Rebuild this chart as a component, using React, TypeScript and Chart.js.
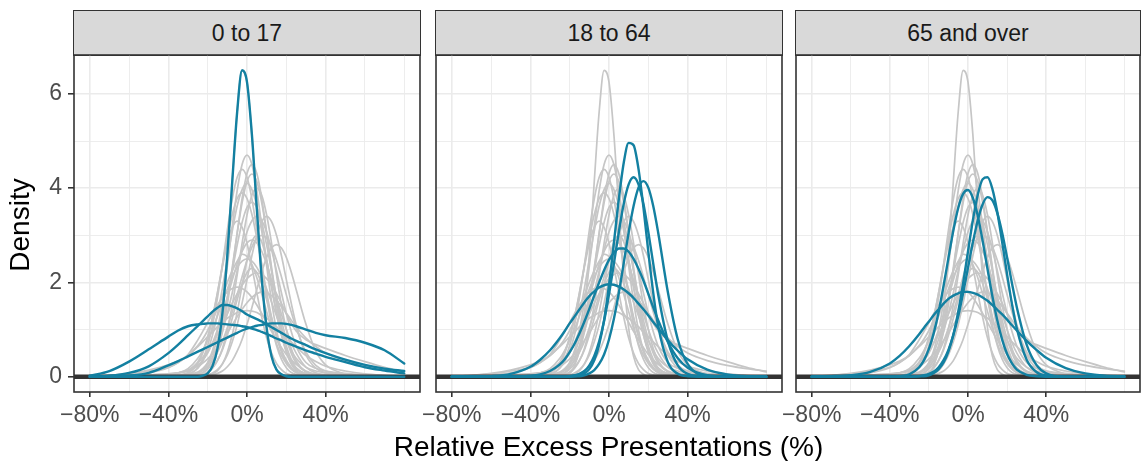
import React, { useEffect, useRef } from "react";
import { Chart, registerables } from "chart.js";

Chart.register(...registerables);
Chart.defaults.font.family = "'Liberation Sans', Arial, Helvetica, sans-serif";

// ---- data -------------------------------------------------------------
const X_PCT = [-80, -70, -60, -50, -40, -35, -30, -25, -22.5, -20, -17.5, -15, -12.5, -10, -7.5, -5, -2.5, 0, 2.5, 5, 7.5, 10, 12.5, 15, 17.5, 20, 22.5, 25, 30, 35, 40, 50, 60, 70, 80];

const X_MAJOR = [-80, -40, 0, 40];
const Y_MAJOR = [0, 2, 4, 6];
const X_MIN = -88;
const X_MAX = 88;
const Y_MIN = -0.325;
const Y_MAX = 6.825;
const BASELINE_VALUE = 0;

const PANEL_LABELS = ["0 to 17", "18 to 64", "65 and over"];
const X_TITLE = "Relative Excess Presentations (%)";
const Y_TITLE = "Density";

// 0 to 17 (highlighted)
const A017_SPIKE = [0, 0, 0, 0, 0, 0, 0, 0, 0.02, 0.07, 0.23, 0.6, 1.35, 2.58, 4.14, 5.62, 6.5, 6.25, 5.13, 3.56, 2.08, 1.03, 0.43, 0.15, 0.05, 0.01, 0, 0, 0, 0, 0, 0, 0, 0, 0];
const A017_WIDE = [0, 0.02, 0.08, 0.22, 0.5, 0.68, 0.88, 1.08, 1.18, 1.28, 1.38, 1.46, 1.52, 1.52, 1.49, 1.45, 1.39, 1.32, 1.27, 1.22, 1.17, 1.11, 1.05, 0.99, 0.93, 0.87, 0.81, 0.76, 0.67, 0.58, 0.5, 0.36, 0.25, 0.17, 0.12];
const A017_PLATEAU = [0.02, 0.12, 0.32, 0.58, 0.85, 0.98, 1.07, 1.11, 1.12, 1.13, 1.13, 1.13, 1.12, 1.11, 1.1, 1.09, 1.07, 1.05, 1.02, 0.99, 0.95, 0.91, 0.86, 0.81, 0.77, 0.72, 0.68, 0.64, 0.56, 0.49, 0.42, 0.31, 0.2, 0.13, 0.07];
const A017_RIGHT = [0, 0, 0.02, 0.08, 0.24, 0.33, 0.43, 0.53, 0.58, 0.63, 0.68, 0.73, 0.78, 0.83, 0.88, 0.93, 0.98, 1.02, 1.05, 1.08, 1.1, 1.12, 1.13, 1.13, 1.13, 1.12, 1.1, 1.07, 1.0, 0.93, 0.88, 0.82, 0.72, 0.56, 0.28];

// 18 to 64 (highlighted)
const A1864_A = [0, 0, 0, 0, 0, 0, 0, 0, 0, 0, 0.01, 0.03, 0.07, 0.16, 0.35, 0.68, 1.2, 1.94, 2.84, 3.77, 4.54, 4.96, 4.91, 4.41, 3.6, 2.65, 1.78, 1.08, 0.3, 0.06, 0.01, 0, 0, 0, 0];
const A1864_B = [0, 0, 0, 0, 0, 0, 0, 0, 0, 0.01, 0.03, 0.06, 0.12, 0.24, 0.44, 0.75, 1.18, 1.75, 2.4, 3.07, 3.67, 4.08, 4.23, 4.08, 3.67, 3.07, 2.4, 1.75, 0.75, 0.24, 0.06, 0, 0, 0, 0];
const A1864_C = [0, 0, 0, 0, 0, 0, 0, 0, 0, 0, 0.01, 0.01, 0.03, 0.07, 0.14, 0.27, 0.47, 0.79, 1.23, 1.78, 2.41, 3.06, 3.62, 4.01, 4.15, 4.01, 3.62, 3.06, 1.78, 0.79, 0.27, 0.01, 0, 0, 0];
const A1864_D = [0, 0, 0, 0, 0.02, 0.05, 0.12, 0.26, 0.37, 0.52, 0.7, 0.92, 1.17, 1.44, 1.72, 2.0, 2.26, 2.48, 2.63, 2.72, 2.72, 2.65, 2.5, 2.29, 2.04, 1.76, 1.47, 1.2, 0.73, 0.39, 0.19, 0.03, 0, 0, 0];
const A1864_E = [0, 0, 0.01, 0.06, 0.21, 0.36, 0.56, 0.82, 0.97, 1.13, 1.28, 1.43, 1.58, 1.71, 1.81, 1.89, 1.94, 1.96, 1.95, 1.91, 1.85, 1.77, 1.67, 1.55, 1.43, 1.3, 1.16, 1.03, 0.77, 0.55, 0.37, 0.15, 0.05, 0.01, 0];

// 65 and over (highlighted)
const A65_A = [0, 0, 0, 0, 0, 0.01, 0.05, 0.2, 0.35, 0.59, 0.93, 1.38, 1.93, 2.52, 3.1, 3.58, 3.88, 3.96, 3.79, 3.41, 2.88, 2.28, 1.7, 1.19, 0.78, 0.48, 0.28, 0.15, 0.04, 0.01, 0, 0, 0, 0, 0];
const A65_B = [0, 0, 0, 0, 0, 0, 0, 0.01, 0.01, 0.03, 0.08, 0.16, 0.3, 0.54, 0.89, 1.38, 1.98, 2.66, 3.32, 3.86, 4.19, 4.23, 3.98, 3.49, 2.85, 2.17, 1.54, 1.02, 0.36, 0.1, 0.02, 0, 0, 0, 0];
const A65_C = [0, 0, 0, 0, 0, 0, 0, 0.01, 0.03, 0.06, 0.11, 0.2, 0.35, 0.57, 0.88, 1.28, 1.77, 2.31, 2.85, 3.32, 3.66, 3.81, 3.74, 3.47, 3.05, 2.53, 1.98, 1.47, 0.68, 0.25, 0.07, 0, 0, 0, 0];
const A65_D = [0, 0.01, 0.03, 0.1, 0.28, 0.44, 0.65, 0.9, 1.04, 1.17, 1.31, 1.43, 1.55, 1.65, 1.72, 1.77, 1.8, 1.8, 1.78, 1.74, 1.68, 1.61, 1.52, 1.42, 1.32, 1.21, 1.09, 0.98, 0.76, 0.57, 0.4, 0.18, 0.07, 0.02, 0.01];

// background (grey) curves
const GRAY_2 = [0, 0, 0, 0, 0.02, 0.03, 0.05, 0.1, 0.17, 0.3, 0.56, 0.99, 1.59, 2.35, 3.19, 3.95, 4.5, 4.7, 4.5, 3.95, 3.19, 2.35, 1.59, 0.99, 0.56, 0.3, 0.17, 0.1, 0.05, 0.03, 0.02, 0, 0, 0, 0];
const GRAY_3 = [0, 0, 0, 0, 0.01, 0.02, 0.03, 0.06, 0.08, 0.16, 0.28, 0.54, 0.95, 1.53, 2.25, 3.05, 3.78, 4.31, 4.5, 4.31, 3.78, 3.05, 2.25, 1.53, 0.95, 0.54, 0.28, 0.16, 0.06, 0.03, 0.02, 0.01, 0, 0, 0];
const GRAY_4 = [0, 0, 0, 0, 0.02, 0.03, 0.05, 0.19, 0.37, 0.66, 1.1, 1.68, 2.37, 3.11, 3.77, 4.23, 4.4, 4.23, 3.77, 3.11, 2.37, 1.68, 1.1, 0.66, 0.37, 0.19, 0.09, 0.05, 0.03, 0.02, 0.01, 0, 0, 0, 0];
const GRAY_5 = [0, 0, 0, 0, 0, 0.01, 0.02, 0.03, 0.04, 0.08, 0.18, 0.34, 0.6, 1.0, 1.52, 2.16, 2.83, 3.43, 3.85, 4.0, 3.85, 3.43, 2.83, 2.16, 1.52, 1.0, 0.6, 0.34, 0.1, 0.04, 0.02, 0.01, 0, 0, 0];
const GRAY_6 = [0, 0, 0, 0.01, 0.03, 0.04, 0.09, 0.31, 0.53, 0.84, 1.27, 1.79, 2.37, 2.94, 3.44, 3.78, 3.9, 3.78, 3.44, 2.94, 2.37, 1.79, 1.27, 0.84, 0.53, 0.31, 0.17, 0.09, 0.04, 0.02, 0.01, 0, 0, 0, 0];
const GRAY_7 = [0, 0, 0, 0, 0.01, 0.02, 0.03, 0.08, 0.16, 0.29, 0.5, 0.8, 1.2, 1.69, 2.24, 2.79, 3.27, 3.59, 3.7, 3.59, 3.27, 2.79, 2.24, 1.69, 1.2, 0.8, 0.5, 0.29, 0.1, 0.05, 0.03, 0.01, 0, 0, 0];
const GRAY_8 = [0, 0, 0, 0, 0.01, 0.02, 0.03, 0.08, 0.15, 0.26, 0.42, 0.65, 0.96, 1.34, 1.78, 2.25, 2.69, 3.07, 3.31, 3.4, 3.31, 3.07, 2.69, 2.25, 1.78, 1.34, 0.96, 0.65, 0.3, 0.18, 0.12, 0.07, 0.04, 0.02, 0.01];
const GRAY_9 = [0, 0, 0, 0, 0, 0.01, 0.01, 0.02, 0.03, 0.04, 0.08, 0.15, 0.27, 0.46, 0.74, 1.1, 1.56, 2.06, 2.57, 3.0, 3.29, 3.4, 3.29, 3.0, 2.57, 2.06, 1.56, 1.1, 0.46, 0.18, 0.08, 0.03, 0.01, 0, 0];
const GRAY_10 = [0, 0, 0, 0, 0, 0, 0.01, 0.01, 0.02, 0.02, 0.04, 0.07, 0.12, 0.21, 0.34, 0.54, 0.79, 1.11, 1.47, 1.85, 2.22, 2.53, 2.73, 2.8, 2.73, 2.53, 2.22, 1.85, 1.11, 0.54, 0.25, 0.06, 0.02, 0.01, 0];
const GRAY_11 = [0, 0.01, 0.02, 0.04, 0.06, 0.08, 0.12, 0.24, 0.35, 0.5, 0.72, 1.0, 1.33, 1.68, 2.05, 2.39, 2.66, 2.84, 2.9, 2.84, 2.66, 2.39, 2.05, 1.68, 1.33, 1.0, 0.72, 0.5, 0.2, 0.08, 0.04, 0.02, 0.01, 0, 0];
const GRAY_12 = [0, 0, 0.01, 0.02, 0.04, 0.08, 0.17, 0.39, 0.56, 0.77, 1.01, 1.29, 1.58, 1.86, 2.12, 2.32, 2.45, 2.5, 2.45, 2.32, 2.12, 1.86, 1.58, 1.29, 1.01, 0.77, 0.56, 0.39, 0.2, 0.12, 0.08, 0.05, 0.03, 0.02, 0.01];
const GRAY_13 = [0, 0.01, 0.02, 0.04, 0.06, 0.08, 0.14, 0.3, 0.41, 0.55, 0.72, 0.9, 1.11, 1.33, 1.56, 1.76, 1.94, 2.08, 2.17, 2.2, 2.17, 2.08, 1.94, 1.76, 1.56, 1.33, 1.13, 0.97, 0.78, 0.68, 0.6, 0.45, 0.32, 0.2, 0.1];
const GRAY_14 = [0.01, 0.03, 0.06, 0.12, 0.2, 0.3, 0.47, 0.78, 0.96, 1.15, 1.34, 1.52, 1.68, 1.8, 1.87, 1.9, 1.87, 1.8, 1.68, 1.52, 1.34, 1.15, 0.96, 0.78, 0.62, 0.47, 0.36, 0.26, 0.12, 0.05, 0.03, 0.01, 0, 0, 0];
const GRAY_15 = [0.01, 0.02, 0.04, 0.08, 0.19, 0.3, 0.45, 0.64, 0.74, 0.85, 0.95, 1.06, 1.15, 1.24, 1.3, 1.36, 1.39, 1.4, 1.39, 1.36, 1.3, 1.24, 1.15, 1.06, 0.95, 0.85, 0.74, 0.64, 0.45, 0.32, 0.22, 0.12, 0.06, 0.03, 0.01];
const GRAY_16 = [0, 0, 0, 0, 0, 0, 0.01, 0.02, 0.05, 0.1, 0.2, 0.35, 0.57, 0.88, 1.24, 1.63, 1.97, 2.21, 2.3, 2.21, 1.97, 1.63, 1.24, 0.88, 0.57, 0.35, 0.2, 0.1, 0.02, 0.01, 0, 0, 0, 0, 0];
const GRAY_17 = [0, 0, 0, 0, 0, 0, 0, 0, 0.01, 0.02, 0.06, 0.13, 0.27, 0.52, 0.89, 1.37, 1.93, 2.47, 2.86, 3.0, 2.86, 2.47, 1.93, 1.37, 0.89, 0.52, 0.27, 0.13, 0.02, 0.01, 0, 0, 0, 0, 0];
const GRAY_18 = [0, 0, 0, 0, 0.01, 0.02, 0.05, 0.18, 0.33, 0.55, 0.89, 1.33, 1.88, 2.49, 3.09, 3.62, 3.97, 4.1, 3.97, 3.62, 3.09, 2.49, 1.88, 1.33, 0.89, 0.55, 0.33, 0.18, 0.05, 0.02, 0.01, 0, 0, 0, 0];
const GRAY_19 = [0, 0, 0, 0, 0, 0.01, 0.02, 0.08, 0.13, 0.22, 0.34, 0.52, 0.75, 1.04, 1.37, 1.74, 2.12, 2.47, 2.75, 2.94, 3.0, 2.94, 2.75, 2.47, 2.12, 1.74, 1.37, 1.04, 0.52, 0.24, 0.12, 0.05, 0.02, 0.01, 0];
const GRAY_20 = [0, 0, 0, 0, 0.01, 0.01, 0.07, 0.28, 0.5, 0.82, 1.26, 1.78, 2.33, 2.83, 3.17, 3.3, 3.17, 2.83, 2.33, 1.78, 1.26, 0.82, 0.5, 0.28, 0.15, 0.07, 0.04, 0.02, 0.01, 0, 0, 0, 0, 0, 0];
const GRAY_21 = [0.01, 0.03, 0.07, 0.14, 0.25, 0.33, 0.45, 0.66, 0.8, 0.98, 1.2, 1.45, 1.72, 2.0, 2.25, 2.45, 2.6, 2.55, 2.38, 2.1, 1.75, 1.38, 1.02, 0.7, 0.45, 0.28, 0.16, 0.09, 0.03, 0.01, 0, 0, 0, 0, 0];
const GRAY_22 = [0, 0, 0.01, 0.02, 0.05, 0.08, 0.13, 0.22, 0.29, 0.38, 0.49, 0.62, 0.77, 0.93, 1.1, 1.27, 1.43, 1.57, 1.68, 1.76, 1.8, 1.78, 1.72, 1.62, 1.49, 1.35, 1.2, 1.06, 0.82, 0.64, 0.5, 0.34, 0.24, 0.17, 0.12];
const GRAY_23 = [0, 0, 0, 0, 0.01, 0.02, 0.03, 0.04, 0.09, 0.19, 0.37, 0.65, 1.07, 1.64, 2.32, 3.04, 3.69, 4.14, 4.3, 4.14, 3.69, 3.04, 2.32, 1.64, 1.07, 0.65, 0.37, 0.19, 0.06, 0.03, 0.02, 0.01, 0, 0, 0];

const GRAY_CURVES = [A017_SPIKE, GRAY_2, GRAY_3, GRAY_4, GRAY_5, GRAY_6, GRAY_7, GRAY_8, GRAY_9, GRAY_10, GRAY_11, GRAY_12, GRAY_13, GRAY_14, GRAY_15, GRAY_16, GRAY_17, GRAY_18, GRAY_19, GRAY_20, GRAY_21, GRAY_22, GRAY_23];
const PANEL_BLUE = [
  [A017_SPIKE, A017_WIDE, A017_PLATEAU, A017_RIGHT],
  [A1864_A, A1864_B, A1864_C, A1864_D, A1864_E],
  [A65_A, A65_B, A65_C, A65_D],
];

// ---- style --------------------------------------------------------------
const BLUE = "#1380A1";
const GRAY = "#C6C6C6";
const DARK = "#333333";
const GRID = "#EBEBEB";
const TICK_TXT = "#4D4D4D";
const TICK_FONT = 23;
const TITLE_FONT = 28;

const PANELS = [
  { plotLeft: 74, plotRight: 420, axisW: 74, showY: true },
  { plotLeft: 436, plotRight: 782, axisW: 40, showY: false },
  { plotLeft: 796, plotRight: 1140, axisW: 40, showY: false },
];
const CANVAS_TOP = 45;
const CANVAS_H = 387;
const PAD_TOP = 10;
const X_AXIS_H = 40;
const PAD_RIGHT = 5;

const fmtPct = (v: number) => (v < 0 ? "\u2212" + Math.abs(v) : String(v)) + "%";

function drawBaseline(chart: any) {
  const { ctx, chartArea } = chart;
  const y = chart.scales.y.getPixelForValue(BASELINE_VALUE);
  ctx.save();
  ctx.strokeStyle = DARK;
  ctx.lineWidth = 4.5;
  ctx.beginPath();
  ctx.moveTo(chartArea.left, y);
  ctx.lineTo(chartArea.right, y);
  ctx.stroke();
  ctx.restore();
}

const decoPlugin = {
  id: "deco",
  beforeDatasetsDraw(chart: any) {
    chart.$baseDone = false;
  },
  beforeDatasetDraw(chart: any, args: any) {
    if (!chart.$baseDone && chart.data.datasets[args.index].order === 0) {
      drawBaseline(chart);
      chart.$baseDone = true;
    }
  },
  afterDatasetsDraw(chart: any) {
    if (!chart.$baseDone) drawBaseline(chart);
  },
  afterDraw(chart: any) {
    const { ctx, chartArea } = chart;
    ctx.save();
    ctx.strokeStyle = DARK;
    ctx.lineWidth = 1.6;
    ctx.strokeRect(chartArea.left, chartArea.top, chartArea.right - chartArea.left, chartArea.bottom - chartArea.top);
    ctx.restore();
  },
};

const zeroPad = (s: any) => {
  s.paddingTop = 0;
  s.paddingBottom = 0;
  s.paddingLeft = 0;
  s.paddingRight = 0;
};

function Panel({ idx }: { idx: number }) {
  const ref = useRef<HTMLCanvasElement | null>(null);
  const p = PANELS[idx];
  const canvasLeft = p.plotLeft - p.axisW;
  const canvasW = p.plotRight - canvasLeft + PAD_RIGHT;

  useEffect(() => {
    const el = ref.current;
    if (!el) return;
    const toPts = (ys: number[]) => ys.map((y, i) => ({ x: X_PCT[i], y }));
    const datasets: any[] = [
      ...PANEL_BLUE[idx].map((ys) => ({ data: toPts(ys), borderColor: BLUE, borderWidth: 2.4, order: 0 })),
      ...GRAY_CURVES.map((ys) => ({ data: toPts(ys), borderColor: GRAY, borderWidth: 1.7, order: 2 })),
    ];
    const chart = new Chart(el, {
      type: "line",
      data: { datasets },
      options: {
        animation: false,
        responsive: false,
        devicePixelRatio: 1,
        events: [],
        layout: { padding: { top: PAD_TOP, right: PAD_RIGHT, left: 0, bottom: 0 } },
        elements: {
          point: { radius: 0 },
          line: { cubicInterpolationMode: "monotone", borderJoinStyle: "round", borderCapStyle: "round", fill: false },
        },
        plugins: { legend: { display: false }, tooltip: { enabled: false }, title: { display: false } },
        scales: {
          x: {
            type: "linear",
            min: X_MIN,
            max: X_MAX,
            afterFit: (s: any) => {
              s.height = X_AXIS_H;
              zeroPad(s);
            },
            border: { display: false },
            grid: {
              color: GRID,
              lineWidth: (c: any) => (c.tick && X_MAJOR.includes(c.tick.value) ? 1.6 : 0.9),
              tickColor: (c: any) => (c.tick && X_MAJOR.includes(c.tick.value) ? DARK : "rgba(0,0,0,0)"),
              tickLength: 5,
              tickWidth: 1.6,
            },
            ticks: {
              stepSize: 20,
              includeBounds: false,
              autoSkip: false,
              maxRotation: 0,
              minRotation: 0,
              padding: 5,
              color: TICK_TXT,
              font: { size: TICK_FONT },
              callback: (v: any) => (X_MAJOR.includes(Number(v)) ? fmtPct(Number(v)) : ""),
            },
          },
          y: {
            type: "linear",
            min: Y_MIN,
            max: Y_MAX,
            afterFit: (s: any) => {
              s.width = p.axisW;
              zeroPad(s);
            },
            border: { display: false },
            grid: {
              color: GRID,
              lineWidth: (c: any) => (c.tick && Y_MAJOR.includes(c.tick.value) ? 1.6 : 0.9),
              tickColor: (c: any) => (p.showY && c.tick && Y_MAJOR.includes(c.tick.value) ? DARK : "rgba(0,0,0,0)"),
              drawTicks: p.showY,
              tickLength: 6,
              tickWidth: 1.6,
            },
            ticks: {
              display: p.showY,
              stepSize: 1,
              includeBounds: false,
              autoSkip: false,
              padding: 6,
              color: TICK_TXT,
              font: { size: TICK_FONT },
              callback: (v: any) => (Y_MAJOR.includes(Number(v)) ? String(v) : ""),
            },
          },
        },
      },
      plugins: [decoPlugin],
    } as any);
    return () => chart.destroy();
  }, [idx]);

  return (
    <canvas
      ref={ref}
      width={canvasW}
      height={CANVAS_H}
      style={{ position: "absolute", left: canvasLeft, top: CANVAS_TOP, width: canvasW, height: CANVAS_H }}
    />
  );
}

export default function App() {
  const font = "'Liberation Sans', Arial, Helvetica, sans-serif";
  return (
    <div
      style={{
        position: "fixed",
        left: 0,
        top: 0,
        width: 1141,
        height: 461,
        overflow: "hidden",
        background: "#ffffff",
        fontFamily: font,
      }}
    >
      {PANELS.map((p, i) => (
        <div
          key={"strip" + i}
          style={{
            position: "absolute",
            left: p.plotLeft - 0.8,
            top: 10,
            width: Math.min(p.plotRight - p.plotLeft + 1.6, 1141 - p.plotLeft + 0.8),
            height: 46,
            boxSizing: "border-box",
            border: "1.6px solid " + DARK,
            background: "#D9D9D9",
            display: "flex",
            alignItems: "center",
            justifyContent: "center",
            fontSize: TICK_FONT,
            color: "#1A1A1A",
            whiteSpace: "nowrap",
          }}
        >
          {PANEL_LABELS[i]}
        </div>
      ))}
      {PANELS.map((_, i) => (
        <Panel key={"panel" + i} idx={i} />
      ))}
      <div
        style={{
          position: "absolute",
          left: 19.8 - 100,
          top: 224.5 - 14,
          width: 200,
          height: 28,
          lineHeight: "28px",
          fontSize: TITLE_FONT,
          textAlign: "center",
          color: "#000",
          transform: "rotate(-90deg)",
          whiteSpace: "nowrap",
        }}
      >
        {Y_TITLE}
      </div>
      <div
        style={{
          position: "absolute",
          left: 608.5 - 300,
          top: 433.3,
          width: 600,
          height: 28,
          lineHeight: "28px",
          fontSize: TITLE_FONT,
          textAlign: "center",
          color: "#000",
          whiteSpace: "nowrap",
        }}
      >
        {X_TITLE}
      </div>
    </div>
  );
}
